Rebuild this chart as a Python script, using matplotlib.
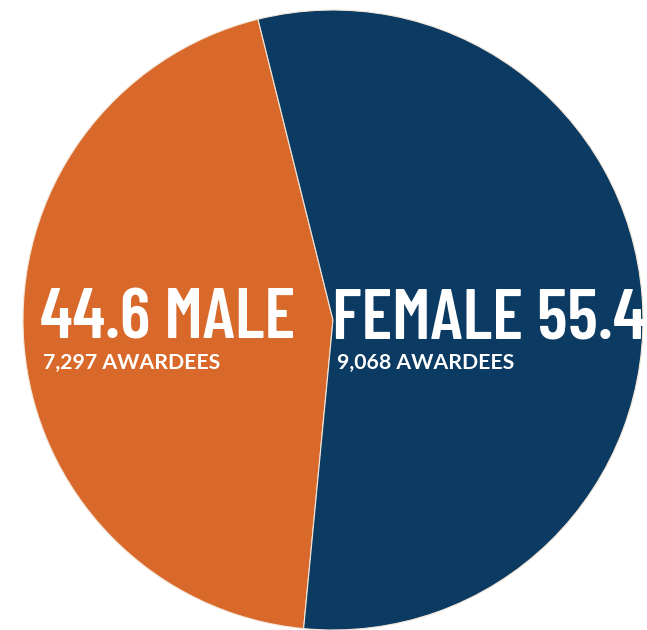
import matplotlib
matplotlib.use("Agg")
import matplotlib.pyplot as plt

# shares of awardees by gender
labels = ["MALE", "FEMALE"]
shares = [44.6, 55.4]
awardees = ["7,297", "9,068"]
colors = ["#D8692A", "#0B3A62"]

fig = plt.figure(figsize=(6.47, 6.30), dpi=100)
ax = fig.add_axes([23 / 647, 0.0, 620 / 647, 620 / 630])

wedges, _ = ax.pie(shares, colors=colors, startangle=104.0, counterclock=True,
                   radius=1.0, wedgeprops=dict(edgecolor="#F3E6D8", linewidth=0.8))
ax.set_xlim(-1, 1)
ax.set_ylim(-1, 1)
ax.set_aspect("equal")
ax.axis("off")

big = dict(family=["Barlow Condensed", "DejaVu Sans"], weight=600, fontsize=51,
           color="white", va="baseline")
small = dict(family=["Lato", "DejaVu Sans"], weight="bold", fontsize=15.3,
             color="white", va="baseline")

# male, left side
ax.text(-0.945, -0.061, f"{shares[0]} {labels[0]}", ha="left", **big)
ax.text(-0.935, -0.157, f"{awardees[0]} AWARDEES", ha="left", **small)
# female, right side
ax.text(-0.002, -0.061, f"{labels[1]} {shares[1]}", ha="left", **big)
ax.text(0.014, -0.157, f"{awardees[1]} AWARDEES", ha="left", **small)

fig.savefig("out.png", dpi=100)
